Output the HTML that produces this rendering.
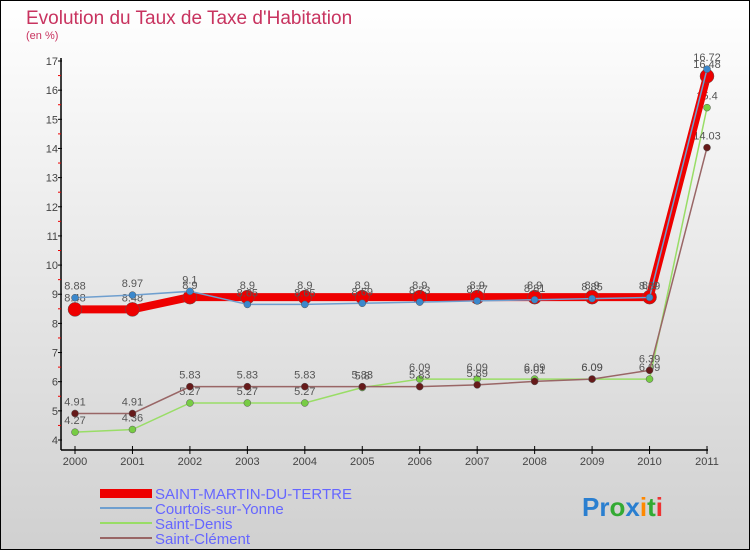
<!DOCTYPE html>
<html><head><meta charset="utf-8"><style>
body{margin:0}
#c{width:750px;height:550px;position:relative;overflow:hidden;font-family:"Liberation Sans",sans-serif}
</style></head><body>
<div id="c">
<svg id="svg" width="750" height="550" xmlns="http://www.w3.org/2000/svg">
<defs><linearGradient id="bg" x1="0" y1="0" x2="0" y2="1"><stop offset="0" stop-color="#ffffff"/><stop offset="1" stop-color="#d0d0d0"/></linearGradient></defs>
<rect x="0.5" y="0.5" width="749" height="549" fill="url(#bg)" stroke="#000"/>
<text x="26" y="24" font-size="19" fill="#c8335f">Evolution du Taux de Taxe d'Habitation</text>
<text x="26" y="39" font-size="11" fill="#c8335f">(en %)</text>
<g id="axes"></g><g id="series"></g>
<g>
<rect x="100" y="489" width="52" height="9" fill="#ee0000"/>
<text x="155" y="499" font-size="15" fill="#6666ff">SAINT-MARTIN-DU-TERTRE</text>
<rect x="100" y="507" width="52" height="2" fill="#6f9fcf"/>
<text x="155" y="514" font-size="15" fill="#6666ff">Courtois-sur-Yonne</text>
<rect x="100" y="522" width="52" height="2" fill="#99dd66"/>
<text x="155" y="529" font-size="15" fill="#6666ff">Saint-Denis</text>
<rect x="100" y="537" width="52" height="2" fill="#996666"/>
<text x="155" y="544" font-size="15" fill="#6666ff">Saint-Clément</text>
</g>
<text x="582" y="516" font-size="26" font-weight="bold"><tspan fill="#2a7fd0">Pr</tspan><tspan fill="#33aa33">o</tspan><tspan fill="#2a7fd0">x</tspan><tspan fill="#ff8800">i</tspan><tspan fill="#33aa33">t</tspan><tspan fill="#ee3333">i</tspan></text>
</svg>
</div>
<script>
const years=["2000","2001","2002","2003","2004","2005","2006","2007","2008","2009","2010","2011"];
const yTicks=[4,5,6,7,8,9,10,11,12,13,14,15,16,17];
const smt=[8.48,8.48,8.9,8.9,8.9,8.9,8.9,8.9,8.9,8.9,8.9,16.48];
const courtois=[8.88,8.97,9.1,8.65,8.65,8.69,8.73,8.77,8.81,8.85,8.89,16.72];
const denis=[4.27,4.36,5.27,5.27,5.27,5.8,6.09,6.09,6.09,6.09,6.09,15.4];
const clement=[4.91,4.91,5.83,5.83,5.83,5.83,5.83,5.89,6.01,6.09,6.39,14.03];
const NS="http://www.w3.org/2000/svg";
const X0=75,X1=707,Y0=440,Y1=61,VMIN=4,VMAX=17;
const xs=i=>X0+(X1-X0)*i/(years.length-1);
const ys=v=>Y0-(v-VMIN)*(Y0-Y1)/(VMAX-VMIN);
function mk(t,a,p){const e=document.createElementNS(NS,t);for(const k in a)e.setAttribute(k,a[k]);p.appendChild(e);return e;}
const ax=document.getElementById('axes');
let e=mk('line',{x1:61,y1:58,x2:61,y2:450,stroke:'#000','stroke-width':1.5},ax);


e=mk('line',{x1:61,y1:450,x2:708,y2:450,stroke:'#000','stroke-width':1.5},ax);


yTicks.forEach((v,i)=>{
 mk('line',{x1:58,y1:ys(v),x2:62,y2:ys(v),stroke:'#000'},ax);
 if(i<yTicks.length-1) mk('line',{x1:58,y1:ys(v+0.5),x2:61,y2:ys(v+0.5),stroke:'#e00'},ax);
 const t=mk('text',{x:58,y:ys(v)+4,'font-size':11,fill:'#444','text-anchor':'end'},ax);t.textContent=v;
 
 
});
years.forEach((y,i)=>{
 mk('line',{x1:xs(i),y1:446,x2:xs(i),y2:454,stroke:'#000'},ax);
 const t=mk('text',{x:xs(i),y:465,'font-size':11,fill:'#444','text-anchor':'middle'},ax);t.textContent=y;
 
 
});
const sg=document.getElementById('series');
function draw(data,color,w,r,name,dot){
 const g=mk('g',{},sg);
 
 
 const p=mk('polyline',{points:data.map((v,i)=>xs(i)+','+ys(v)).join(' '),fill:'none',stroke:color,'stroke-width':w},g);
 
 
 data.forEach((v,i)=>{
  const c=mk('circle',{cx:xs(i),cy:ys(v),r:r,fill:dot,stroke:'#555','stroke-width':0.5},g);
  
  
  const t=mk('text',{x:xs(i),y:ys(v)-8,'font-size':11,fill:'#555','text-anchor':'middle'},g);
  t.textContent=String(v);
  
  
 });
}
draw(denis,'#99dd66',1.5,3.5,'saint-denis','#77cc44');
draw(clement,'#996666',1.5,3.5,'saint-clement','#661a1a');
draw(smt,'#ee0000',8,7,'saint-martin','#ee0000');
draw(courtois,'#6f9fcf',1.5,3.5,'courtois','#3b88cc');
</script>
</body></html>
